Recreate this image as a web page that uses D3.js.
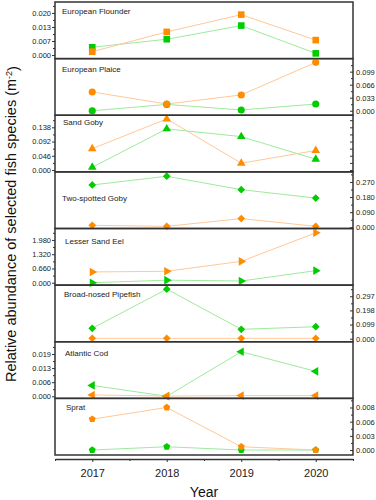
<!DOCTYPE html>
<html>
<head>
<meta charset="utf-8">
<script src="https://cdn.jsdelivr.net/npm/d3@7"></script>
<style>
  body { margin: 0; background: #fff; }
  svg { display: block; font-family: "Liberation Sans", Arial, sans-serif; }
</style>
</head>
<body>
<div id="chart"></div>
<script>
// data (orange / green series per species)
const years = [2017, 2018, 2019, 2020];
const species = ["European Flounder", "European Plaice", "Sand Goby", "Two-spotted Goby",
    "Lesser Sand Eel", "Broad-nosed Pipefish", "Atlantic Cod", "Sprat"];

const flounderOrange = [0.0016, 0.0110, 0.0192, 0.0071];
const flounderGreen = [0.0037, 0.0075, 0.0140, 0.0008];
const plaiceOrange = [0.0475, 0.0170, 0.0400, 0.1226];
const plaiceGreen = [0.0000, 0.0160, 0.0020, 0.0170];
const sandGobyOrange = [0.069, 0.165, 0.022, 0.063];
const sandGobyGreen = [0.009, 0.133, 0.108, 0.035];
const twoSpotOrange = [0.012, 0.006, 0.052, 0.006];
const twoSpotGreen = [0.252, 0.304, 0.224, 0.174];
const sandEelOrange = [0.50, 0.53, 0.99, 2.31];
const sandEelGreen = [0.00, 0.12, 0.08, 0.56];
const pipefishOrange = [0.003, 0.003, 0.003, 0.003];
const pipefishGreen = [0.073, 0.347, 0.066, 0.084];
const codOrange = [0.0006, 0.0001, 0.0003, 0.0003];
const codGreen = [0.0049, 0.0000, 0.0200, 0.0112];
const spratOrange = [0.0061, 0.0084, 0.00065, 0.0000];
const spratGreen = [0.0000, 0.00065, 0.0000, 0.0000];

// top labelled tick of each panel (4 labels: 0, 1/3, 2/3, max)
const tickMax = [0.020, 0.099, 0.138, 0.270, 1.980, 0.297, 0.019, 0.0084];

const orangeSeries = [flounderOrange, plaiceOrange, sandGobyOrange, twoSpotOrange,
    sandEelOrange, pipefishOrange, codOrange, spratOrange];
const greenSeries = [flounderGreen, plaiceGreen, sandGobyGreen, twoSpotGreen,
    sandEelGreen, pipefishGreen, codGreen, spratGreen];

// ---- layout ----
const W = 376, H = 500;
const plotLeft = 55, plotRight = 353, plotTop = 2, plotBottom = 455;
const panelH = (plotBottom - plotTop) / species.length;
// y domain per panel (zero sits a few px above the panel floor)
const panelDomains = [
    [-0.0017, 0.0252], [-0.0114, 0.132], [-0.006, 0.177], [-0.007, 0.33],
    [-0.11, 2.51], [-0.021, 0.375], [-0.00094, 0.0245], [-0.00098, 0.0102]
];
const labelPos = [[62, 12], [62, 13], [63, 10], [62, 29], [65, 15], [64, 12], [65, 14], [66, 12]];

const orangeColor = "#ff8c00", orangeLine = "#ffc898";
const greenColor = "#00cc00", greenLine = "#9eea9e";

// custom marker shapes
const pentagon = {
    draw(ctx, size) {
        let r = Math.sqrt(size / 2.378);
        for (let k = 0; k < 5; k++) {
            let a = -Math.PI / 2 + k * 2 * Math.PI / 5;
            k === 0 ? ctx.moveTo(r * Math.cos(a), r * Math.sin(a)) : ctx.lineTo(r * Math.cos(a), r * Math.sin(a));
        }
        ctx.closePath();
    }
};
const markers = [
    {type: d3.symbolSquare, size: 44, rot: 0},
    {type: d3.symbolCircle, size: 40, rot: 0},
    {type: d3.symbolTriangle, size: 32, rot: 0},
    {type: d3.symbolSquare, size: 30, rot: 45},
    {type: d3.symbolTriangle, size: 32, rot: 90},
    {type: d3.symbolSquare, size: 30, rot: 45},
    {type: d3.symbolTriangle, size: 32, rot: -90},
    {type: pentagon, size: 32, rot: 0}
];

const svg = d3.select("#chart").append("svg")
    .attr("width", W).attr("height", H);

const x = d3.scaleLinear().domain([2016.5, 2020.5]).range([plotLeft, plotRight]);
const fmt = d3.format(".3f");

function styleAxis(g, fontSize) {
    g.select(".domain").remove();
    g.selectAll("line").attr("stroke", "#333");
    g.selectAll("text").attr("fill", "#222").style("font-size", fontSize + "px")
        .style("font-family", "'Liberation Sans', Arial, sans-serif");
}

species.forEach((name, i) => {
    let top = plotTop + i * panelH;
    let bottom = top + panelH;
    let y = d3.scaleLinear().domain(panelDomains[i]).range([bottom, top]);
    let m = tickMax[i];
    let major = [0, m / 3, 2 * m / 3, m];
    let minor = [];
    for (let k = 1; k * m / 6 < panelDomains[i][1]; k += 2) minor.push(k * m / 6);

    let g = svg.append("g").attr("class", "panel");

    let line = d3.line().x((d, j) => x(years[j])).y(d => y(d));
    let sets = [
        {vals: greenSeries[i], c: greenColor, lc: greenLine},
        {vals: orangeSeries[i], c: orangeColor, lc: orangeLine}
    ];
    for (let s of sets) {
        g.append("path").datum(s.vals)
            .attr("d", line)
            .attr("fill", "none")
            .attr("stroke", s.lc)
            .attr("stroke-width", 1);
    }
    let mk = markers[i];
    let sym = d3.symbol().type(mk.type).size(mk.size);
    for (let s of sets) {
        g.selectAll(null).data(s.vals).join("path")
            .attr("d", sym)
            .attr("fill", s.c)
            .attr("transform", (d, j) => `translate(${x(years[j])},${y(d)}) rotate(${mk.rot})`);
    }

    // frame
    g.append("rect")
        .attr("x", plotLeft).attr("y", top)
        .attr("width", plotRight - plotLeft).attr("height", panelH)
        .attr("fill", "none").attr("stroke", "#333").attr("stroke-width", 1.5);

    g.append("text")
        .attr("x", labelPos[i][0]).attr("y", top + labelPos[i][1])
        .attr("fill", "#222").style("font-size", "8px")
        .text(name);

    if (i % 2 === 0) {
        g.append("g").attr("transform", `translate(${plotLeft},0)`)
            .call(d3.axisLeft(y).tickValues(major).tickSize(3).tickPadding(1).tickFormat(fmt))
            .call(a => styleAxis(a, 7.5));
        g.append("g").attr("transform", `translate(${plotLeft},0)`)
            .call(d3.axisLeft(y).tickValues(minor).tickSize(2).tickFormat(""))
            .call(a => styleAxis(a, 7.5));
    } else {
        g.append("g").attr("transform", `translate(${plotRight},0)`)
            .call(d3.axisRight(y).tickValues(major).tickSize(-3).tickPadding(3).tickFormat(fmt))
            .call(a => styleAxis(a, 7.5));
        g.append("g").attr("transform", `translate(${plotRight},0)`)
            .call(d3.axisRight(y).tickValues(minor).tickSize(-2).tickFormat(""))
            .call(a => styleAxis(a, 7.5));
    }
    // sand goby panel also carries unlabelled ticks on the right
    if (i === 2) {
        g.append("g").attr("transform", `translate(${plotRight},0)`)
            .call(d3.axisRight(y).tickValues(major.concat(minor)).tickSize(-3).tickFormat(""))
            .call(a => styleAxis(a, 7.5));
    }
});

// bottom year axis, slightly detached from the frame
const xAxisY = plotBottom + 4;
const xg = svg.append("g").attr("transform", `translate(0,${xAxisY})`)
    .call(d3.axisBottom(x).tickValues(years).tickSize(3).tickSizeOuter(0).tickPadding(7).tickFormat(d3.format("d")));
xg.select(".domain").attr("stroke", "#333").attr("stroke-width", 1.3);
xg.selectAll("line").attr("stroke", "#333");
xg.selectAll("text").attr("fill", "#222").style("font-size", "11px")
    .style("font-family", "'Liberation Sans', Arial, sans-serif");
svg.append("g").attr("transform", `translate(0,${xAxisY})`)
    .call(d3.axisBottom(x).tickValues([2016.5, 2017.5, 2018.5, 2019.5, 2020.5]).tickSize(2).tickFormat(""))
    .call(a => styleAxis(a, 11));

svg.append("text")
    .attr("x", (plotLeft + plotRight) / 2).attr("y", 497)
    .attr("text-anchor", "middle").attr("fill", "#111")
    .style("font-size", "14px")
    .text("Year");

const yTitle = svg.append("text")
    .attr("transform", `translate(16,${(67 + 381) / 2}) rotate(-90)`)
    .attr("text-anchor", "middle").attr("fill", "#111")
    .style("font-size", "14.5px");
yTitle.append("tspan").text("Relative abundance of selected fish species (m");
yTitle.append("tspan").attr("dy", "-0.45em").style("font-size", "9px").text("-2");
yTitle.append("tspan").attr("dy", "0.45em").text(")");
</script>
</body>
</html>
